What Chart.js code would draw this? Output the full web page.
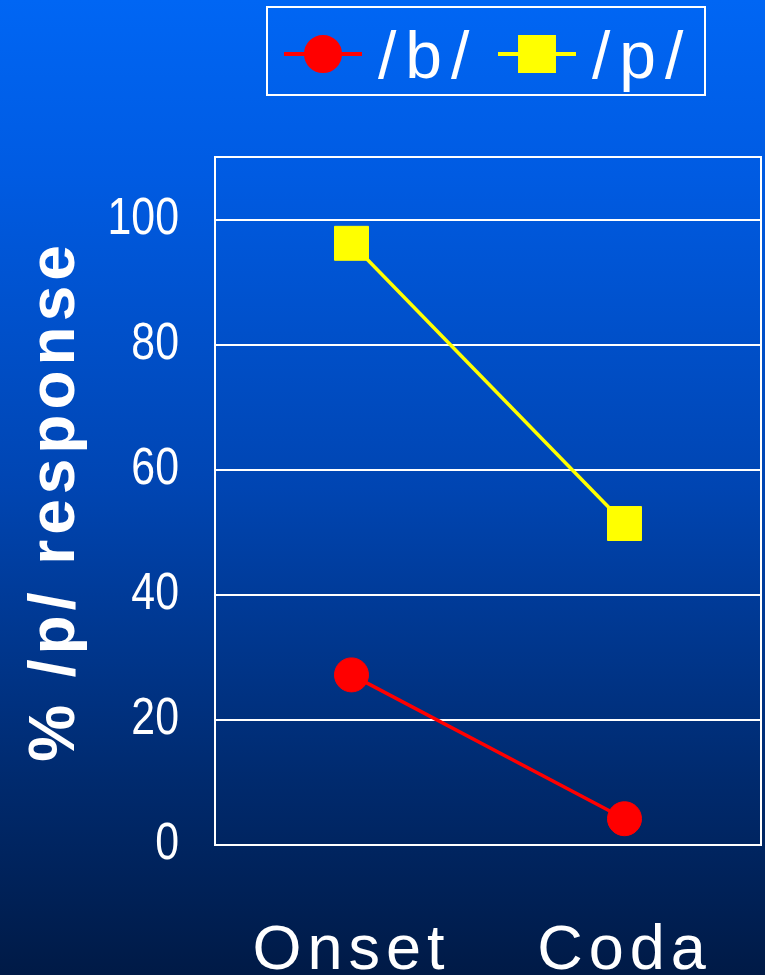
<!DOCTYPE html>
<html>
<head>
<meta charset="utf-8">
<script src="https://cdn.jsdelivr.net/npm/chart.js@4.4.1/dist/chart.umd.min.js"></script>
<style>
  html, body { margin: 0; padding: 0; background: #00204f; overflow: hidden; }
  canvas { display: block; }
</style>
</head>
<body>
<canvas id="chart" width="765" height="975"></canvas>
<script>
// Categories and series
const categories = ['Onset', 'Coda'];
const seriesNames = ['/b/', '/p/'];
const bValues = [27.2, 4.2];
const pValues = [96.2, 51.4];

// Value axis
const yMin = 0;
const yMax = 110;
const yStep = 20;
const yTitle = '% /p/ response';

const SANS = "'Liberation Sans', Arial, sans-serif";

function withSpacing(ctx, px, fn) {
  const prev = ctx.letterSpacing;
  ctx.letterSpacing = px + 'px';
  try { fn(); } finally { ctx.letterSpacing = prev; }
}

// Slide-style blue backdrop
const backdrop = {
  id: 'backdrop',
  beforeDraw(chart) {
    const { ctx, width, height } = chart;
    const g = ctx.createLinearGradient(0, 0, 0, height);
    g.addColorStop(0.00, '#0066f4');
    g.addColorStop(0.18, '#005be2');
    g.addColorStop(0.50, '#0045b2');
    g.addColorStop(0.80, '#002a6e');
    g.addColorStop(1.00, '#001a46');
    ctx.save();
    ctx.fillStyle = g;
    ctx.fillRect(0, 0, width, height);
    ctx.restore();
  }
};

// White frame round the plot area
const plotFrame = {
  id: 'plotFrame',
  beforeDatasetsDraw(chart) {
    const { ctx, chartArea: a } = chart;
    ctx.save();
    ctx.strokeStyle = '#ffffff';
    ctx.lineWidth = 2;
    ctx.strokeRect(a.left, a.top, a.right - a.left, a.bottom - a.top);
    ctx.restore();
  }
};

// Letter spacing for the category labels and axis title, condensed value labels
const textStyling = {
  id: 'textStyling',
  afterLayout(chart) {
    const x = chart.scales.x, y = chart.scales.y;
    if (!x._styled) {
      const draw = x.drawLabels;
      x.drawLabels = function (area) { withSpacing(this.ctx, 6, () => draw.call(this, area)); };
      x._styled = true;
    }
    if (!y._styled) {
      const drawTitle = y.drawTitle;
      y.drawTitle = function (area) { withSpacing(this.ctx, 5, () => drawTitle.call(this, area)); };
      const drawLabels = y.drawLabels;
      y.drawLabels = function (area) {
        const ctx = this.ctx;
        const anchor = this.right - this.options.ticks.padding;
        ctx.save();
        ctx.translate(anchor, 0);
        ctx.scale(0.84, 1);
        ctx.translate(-anchor, 0);
        drawLabels.call(this, area);
        ctx.restore();
      };
      y._styled = true;
    }
  }
};

// Boxed legend: line + marker sample followed by the series name
const lineLegend = {
  id: 'lineLegend',
  afterDraw(chart) {
    const { ctx, chartArea } = chart;
    const boxW = 438, boxH = 88, top = 7;
    const left = (chartArea.left + chartArea.right) / 2 - 2 - boxW / 2;
    const midY = top + 47;
    const offsets = [17, 231];
    ctx.save();
    ctx.strokeStyle = '#ffffff';
    ctx.lineWidth = 2;
    ctx.strokeRect(left, top, boxW, boxH);
    chart.data.datasets.forEach((ds, i) => {
      const x0 = left + offsets[i];
      ctx.strokeStyle = ds.borderColor;
      ctx.lineWidth = 4;
      ctx.beginPath();
      ctx.moveTo(x0, midY);
      ctx.lineTo(x0 + 78, midY);
      ctx.stroke();
      ctx.fillStyle = ds.pointBackgroundColor;
      ctx.strokeStyle = ds.pointBorderColor;
      Chart.helpers.drawPoint(ctx, {
        pointStyle: ds.pointStyle, radius: ds.pointRadius,
        borderWidth: ds.pointBorderWidth, rotation: 0
      }, x0 + 39, midY);
      ctx.fillStyle = '#ffffff';
      ctx.font = '66px ' + SANS;
      ctx.textAlign = 'left';
      ctx.textBaseline = 'alphabetic';
      withSpacing(ctx, 9, () => ctx.fillText(ds.label, x0 + 94, 78));
    });
    ctx.restore();
  }
};

new Chart(document.getElementById('chart'), {
  type: 'line',
  data: {
    labels: categories,
    datasets: [
      {
        label: seriesNames[0],
        data: bValues,
        borderColor: '#ff0000',
        borderWidth: 3.5,
        pointStyle: 'circle',
        pointRadius: 17,
        pointBackgroundColor: '#ff0000',
        pointBorderColor: '#ff0000',
        pointBorderWidth: 1
      },
      {
        label: seriesNames[1],
        data: pValues,
        borderColor: '#ffff00',
        borderWidth: 3.5,
        pointStyle: 'rect',
        pointRadius: 24,
        pointBackgroundColor: '#ffff00',
        pointBorderColor: '#ffff00',
        pointBorderWidth: 1
      }
    ]
  },
  options: {
    responsive: false,
    animation: false,
    devicePixelRatio: 1,
    layout: { autoPadding: false, padding: { top: 157, right: 4, left: 0, bottom: 0 } },
    elements: { line: { tension: 0 } },
    plugins: {
      legend: { display: false },
      tooltip: { enabled: false }
    },
    scales: {
      x: {
        type: 'category',
        offset: true,
        grid: { display: false },
        border: { display: false },
        ticks: {
          color: '#ffffff',
          font: { family: SANS, size: 63 },
          padding: 61,
          maxRotation: 0,
          autoSkip: false
        },
        afterFit(s) { s.height = 130; s.paddingLeft = 0; s.paddingRight = 0; }
      },
      y: {
        min: yMin,
        max: yMax,
        ticks: {
          stepSize: yStep,
          includeBounds: false,
          color: '#ffffff',
          font: { family: SANS, size: 51 },
          padding: 36
        },
        grid: { color: '#ffffff', lineWidth: 2, drawTicks: false },
        border: { display: false },
        title: {
          display: true,
          text: yTitle,
          color: '#ffffff',
          font: { family: SANS, size: 64, weight: 'bold', lineHeight: 1 },
          padding: { top: 24, bottom: 0 }
        },
        afterFit(s) { s.width = 215; s.paddingTop = 0; s.paddingBottom = 0; }
      }
    }
  },
  plugins: [backdrop, plotFrame, textStyling, lineLegend]
});
</script>
</body>
</html>
